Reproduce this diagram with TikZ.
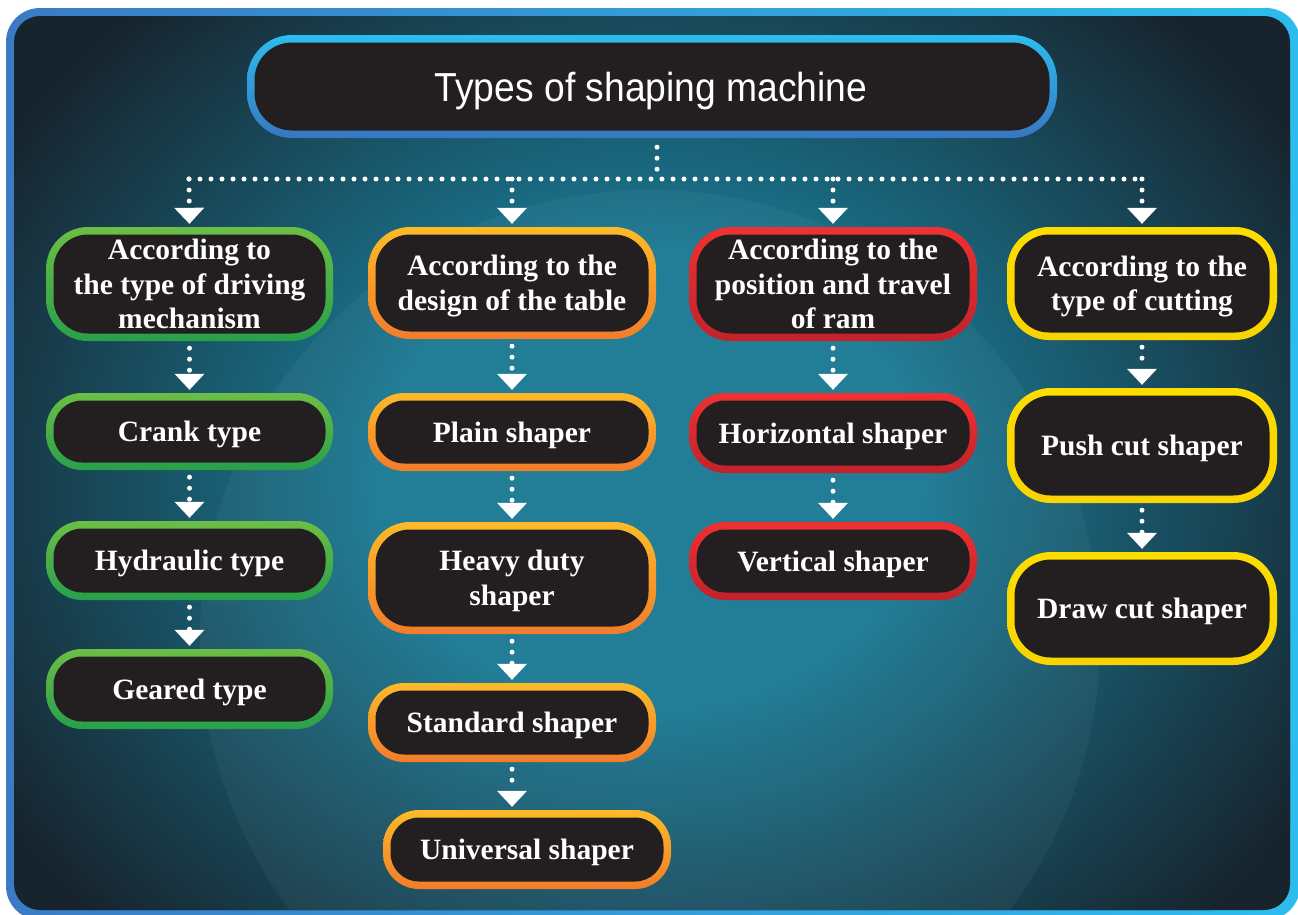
\documentclass[tikz,border=0pt]{standalone}
\usepackage{fontspec}
\setmainfont{Liberation Serif}
\newfontfamily\titlefont[FakeStretch=0.92]{Liberation Sans}
\usetikzlibrary{arrows.meta}
\definecolor{bgdark}{HTML}{17242E}
\definecolor{glowc}{HTML}{1A7892}
\definecolor{boxfill}{HTML}{231F20}
\definecolor{frameL}{HTML}{3A7BC4}
\definecolor{frameR}{HTML}{2DBCEE}
\definecolor{titleT}{HTML}{2CBDEF}
\definecolor{titleB}{HTML}{3777C0}
\definecolor{greenT}{HTML}{6CBE45}
\definecolor{greenB}{HTML}{27A04A}
\definecolor{orangeT}{HTML}{FDBA28}
\definecolor{orangeB}{HTML}{F27C2A}
\definecolor{redT}{HTML}{EF3131}
\definecolor{redB}{HTML}{C2222B}
\definecolor{yellowT}{HTML}{FDDD00}
\definecolor{yellowB}{HTML}{F8D400}
\pgfdeclareradialshading{glow}{\pgfpoint{0bp}{0bp}}{color(0bp)=(glowc); color(9bp)=(glowc); color(25bp)=(bgdark); color(50bp)=(bgdark)}
\tikzset{
  boxtext/.style={text=white, font=\fontsize{29.5}{34.5}\selectfont\bfseries, align=center, inner sep=0pt},
  oneline/.style={text height=20pt, text depth=0pt},
  twoline/.style={text height=54.5pt, text depth=0pt},
  threeline/.style={text height=89pt, text depth=0pt},
  dotline/.style={draw=white, line width=5pt, line cap=round, dash pattern=on 0pt off 11pt},
  tipped/.style={-{Triangle[width=30pt,length=16pt,line width=0pt,fill=white]}, shorten >=3pt, shorten <=7pt},
}
% #1 name, #2 x1, #3 y1, #4 x2, #5 y2, #6 radius, #7 top colour, #8 bottom colour
\newcommand\flowbox[8]{%
  \shade[top color=#7, bottom color=#8, rounded corners=#6pt] (#2,#3) rectangle (#4,#5);
  \fill[boxfill, rounded corners={(#6-7.5)*1pt}] ({#2+7.5},{#3+7.5}) rectangle ({#4-7.5},{#5-7.5});
  \node[inner sep=0pt, minimum width={(#4-#2)*1pt}, minimum height={(#5-#3)*1pt}] (#1) at ({(#2+#4)/2},{(#3+#5)/2}) {};
}
\begin{document}
\begin{tikzpicture}[x=1pt,y=-1pt]
\useasboundingbox (0,0) rectangle (1298,914);
\begin{scope}
\clip (0,0) rectangle (1298,914);
% frame
\shade[left color=frameL, right color=frameR, rounded corners=34pt] (6,8) rectangle (1300,920);
\fill[bgdark, rounded corners=26pt] (14,16) rectangle (1290,910);
\begin{scope}
\clip[rounded corners=26pt] (14,16) rectangle (1290,910);
\shade[shading=glow] (650,480) ellipse [x radius=760, y radius=640];
\fill[white, opacity=0.04] (650,640) circle [radius=450];
\end{scope}
\end{scope}

% title
\flowbox{title}{247}{35}{1057}{138}{45}{titleT}{titleB}
\node[text=white, font=\titlefont\fontsize{40.5}{44}\selectfont, inner sep=0pt, text height=29pt, text depth=0pt] (titletext) at (651,86.5) {Types of shaping machine};

% column 1
\flowbox{b11}{46}{227}{333}{341}{42}{greenT}{greenB}
\flowbox{b12}{46}{393}{333}{470}{36}{greenT}{greenB}
\flowbox{b13}{46}{521}{333}{600}{36}{greenT}{greenB}
\flowbox{b14}{46}{649}{333}{729}{36}{greenT}{greenB}
% column 2
\flowbox{b21}{368}{227}{656}{339}{42}{orangeT}{orangeB}
\flowbox{b22}{368}{393}{656}{471}{36}{orangeT}{orangeB}
\flowbox{b23}{368}{522}{656}{634}{42}{orangeT}{orangeB}
\flowbox{b24}{368}{683}{656}{762}{36}{orangeT}{orangeB}
\flowbox{b25}{383}{810}{671}{889}{36}{orangeT}{orangeB}
% column 3
\flowbox{b31}{689}{227}{977}{341}{42}{redT}{redB}
\flowbox{b32}{689}{393}{977}{473}{36}{redT}{redB}
\flowbox{b33}{689}{522}{977}{600}{36}{redT}{redB}
% column 4
\flowbox{b41}{1007}{227}{1277}{340}{42}{yellowT}{yellowB}
\flowbox{b42}{1007}{388}{1277}{503}{44}{yellowT}{yellowB}
\flowbox{b43}{1007}{552}{1277}{665}{44}{yellowT}{yellowB}

% texts
\node[boxtext, threeline] (t11) at (b11) {According to\\the type of driving\\mechanism};
\node[boxtext, oneline] (t12) at (b12) {Crank type};
\node[boxtext, oneline] (t13) at (b13) {Hydraulic type};
\node[boxtext, oneline] (t14) at (b14) {Geared type};
\node[boxtext, twoline] (t21) at (b21) {According to the\\design of the table};
\node[boxtext, oneline] (t22) at (b22) {Plain shaper};
\node[boxtext, twoline] (t23) at (b23) {Heavy duty\\shaper};
\node[boxtext, oneline] (t24) at (b24) {Standard shaper};
\node[boxtext, oneline] (t25) at (b25) {Universal shaper};
\node[boxtext, threeline] (t31) at (b31) {According to the\\position and travel\\of ram};
\node[boxtext, oneline] (t32) at (b32) {Horizontal shaper};
\node[boxtext, oneline] (t33) at (b33) {Vertical shaper};
\node[boxtext, twoline] (t41) at (b41) {According to the\\type of cutting};
\node[boxtext, oneline] (t42) at (b42) {Push cut shaper};
\node[boxtext, oneline] (t43) at (b43) {Draw cut shaper};

% connectors
\coordinate (hub) at (657,179);
\coordinate (j1) at (189,179);
\coordinate (j4) at (1142,179);
\draw[dotline, shorten <=9pt] (title.south -| hub) -- (hub);
\draw[dotline] (j1) -- (j4);
\draw[dotline, tipped, shorten <=0pt] (j1) -- (b11.north);
\draw[dotline, tipped, shorten <=0pt] (j1 -| b21) -- (b21.north);
\draw[dotline, tipped, shorten <=0pt] (j1 -| b31) -- (b31.north);
\draw[dotline, tipped, shorten <=0pt] (j4) -- (b41.north);

\draw[dotline, tipped] (b11.south) -- (b12.north);
\draw[dotline, tipped] (b12.south) -- (b13.north);
\draw[dotline, tipped] (b13.south) -- (b14.north);
\draw[dotline, tipped] (b21.south) -- (b22.north);
\draw[dotline, tipped] (b22.south) -- (b23.north);
\draw[dotline, tipped] (b23.south) -- (b24.north);
\draw[dotline, tipped] (b24.south) -- (b24.south |- b25.north);
\draw[dotline, tipped] (b31.south) -- (b32.north);
\draw[dotline, tipped] (b32.south) -- (b33.north);
\draw[dotline, tipped] (b41.south) -- (b42.north);
\draw[dotline, tipped] (b42.south) -- (b43.north);
\end{tikzpicture}
\end{document}
